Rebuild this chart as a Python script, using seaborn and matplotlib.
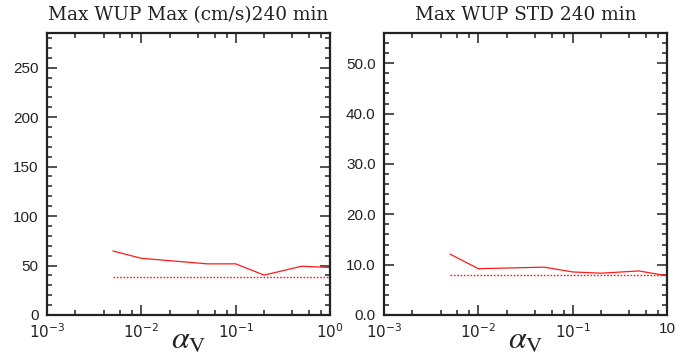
import numpy as np
import pandas as pd
import matplotlib
matplotlib.use("Agg")
import matplotlib.pyplot as plt
import seaborn as sns
from matplotlib.ticker import FixedLocator, NullFormatter, MultipleLocator, FormatStrFormatter

# Sensitivity to the vertical mixing coefficient
alpha_v = [0.005, 0.01, 0.05, 0.1, 0.2, 0.5, 1.0]
wup_max = [64.7, 57.3, 51.7, 51.7, 40.3, 49.3, 48.0]
wup_max_ref = [38.7, 38.7, 38.7, 38.7, 38.7, 38.7, 38.7]
wup_std = [12.1, 9.2, 9.5, 8.55, 8.3, 8.75, 7.8]
wup_std_ref = [7.9, 7.9, 7.9, 7.9, 7.9, 7.9, 7.9]

titles = ["Max WUP Max (cm/s)240 min", "Max WUP STD 240 min"]
ylims = [(0, 285), (0, 56)]
y_major = [50, 10]
y_minor = [10, 2]
y_fmt = ["%d", "%.1f"]
x_ticks = [1e-3, 1e-2, 1e-1, 1e0]
x_labels = [["$10^{-3}$", "$10^{-2}$", "$10^{-1}$", "$10^{0}$"],
            ["$10^{-3}$", "$10^{-2}$", "$10^{-1}$", "10"]]

sns.set_style("ticks")
plt.rcParams["font.family"] = ["Liberation Sans", "DejaVu Sans"]

fig = plt.figure(figsize=(6.87, 3.58), dpi=100)
ax_l = fig.add_axes([47 / 687, 1 - 315 / 358, 283 / 687, 282 / 358])
ax_r = fig.add_axes([384 / 687, 1 - 315 / 358, 283 / 687, 282 / 358])

panels = [(ax_l, wup_max, wup_max_ref), (ax_r, wup_std, wup_std_ref)]
for i, (ax, vals, ref) in enumerate(panels):
    df = pd.DataFrame({"alpha": alpha_v, "val": vals, "ref": ref})
    sns.lineplot(data=df, x="alpha", y="val", ax=ax, color="#ff1a1a",
                 linewidth=0.9, estimator=None)
    sns.lineplot(data=df, x="alpha", y="ref", ax=ax, color="#ff1a1a",
                 linewidth=1.0, linestyle=(0, (1.2, 1.2)), estimator=None)
    ax.set_xscale("log")
    ax.set_xlim(1e-3, 1.0)
    ax.set_ylim(*ylims[i])
    ax.xaxis.set_major_locator(FixedLocator(x_ticks))
    ax.set_xticklabels(x_labels[i], math_fontfamily="dejavusans")
    ax.xaxis.set_minor_locator(FixedLocator(
        [m * d for d in (1e-3, 1e-2, 1e-1) for m in (2, 4, 6, 8)]))
    ax.xaxis.set_minor_formatter(NullFormatter())
    ax.yaxis.set_major_locator(MultipleLocator(y_major[i]))
    ax.yaxis.set_minor_locator(MultipleLocator(y_minor[i]))
    ax.yaxis.set_major_formatter(FormatStrFormatter(y_fmt[i]))
    ax.tick_params(which="both", direction="in", top=True, right=True,
                   labelsize=11, colors="#222222", width=1.1)
    ax.tick_params(axis="x", pad=5)
    ax.tick_params(axis="y", pad=6)
    ax.tick_params(which="major", length=7.5)
    ax.tick_params(which="minor", length=3.5)
    for sp in ax.spines.values():
        sp.set_linewidth(1.6)
        sp.set_color("#222222")
    ax.set_ylabel("")
    ax.set_xlabel(r"$\alpha_{\mathrm{V}}$", fontsize=23, math_fontfamily="stix",
                  labelpad=-11, color="#222222")
    ax.set_title(titles[i], family="DejaVu Serif", fontsize=13.3, pad=9,
                 color="#222222")

fig.savefig("out.png", dpi=100)
